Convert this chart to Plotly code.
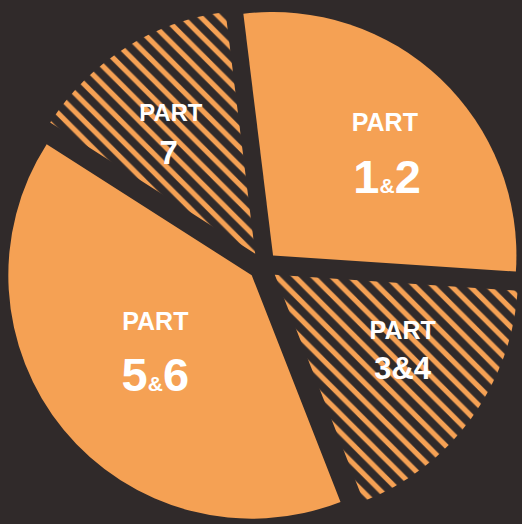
import plotly.graph_objects as go

# Data
part_labels = ["1&2", "3&4", "5&6", "7"]
shares = [28, 18, 40, 14]
hatched = [False, True, False, True]

ORANGE = "#f5a154"
DARK = "#302a2a"

NB = "&nbsp;"


def label_html(lbl):
    # "PART" small on top, numbers large with a small ampersand
    lead_head, lead_body, top, tail = "", "", "", ""
    if lbl == "1&2":
        lead_head, lead_body = NB * 5, NB * 3
    elif lbl == "7":
        lead_head, lead_body, top = NB * 2, NB, NB + "<br>"
    elif lbl == "3&4":
        tail = '<br><span style="font-size:4px">' + NB + "</span>"
    head = '<span style="font-size:25px">' + lead_head + "PART</span>"
    if lbl in ("1&2", "5&6"):
        a, b = lbl.split("&")
        body = a + '<span style="font-size:21px">&amp;</span>' + b
    else:
        body = lbl.replace("&", "&amp;")
    return top + head + "<br>" + lead_body + body + tail


texts = [label_html(l) for l in part_labels]
font_sizes = [47 if l in ("1&2", "5&6") else (31 if l == "3&4" else 35) for l in part_labels]

fig = go.Figure(
    go.Pie(
        labels=["PART " + l for l in part_labels],
        values=shares,
        text=texts,
        textinfo="text",
        texttemplate="%{text}",
        textposition="inside",
        insidetextorientation="horizontal",
        sort=False,
        direction="clockwise",
        rotation=-7,
        pull=[0.06] * len(shares),
        marker=dict(
            colors=[ORANGE] * len(shares),
            line=dict(width=0),
            pattern=dict(
                shape=["\\" if h else "" for h in hatched],
                fgcolor=ORANGE,
                bgcolor=[DARK if h else ORANGE for h in hatched],
                size=13,
                solidity=0.4,
                fillmode="replace",
            ),
        ),
        textfont=dict(family="Liberation Sans", color="white", size=font_sizes, weight="bold"),
        hoverinfo="label+percent",
        showlegend=False,
    )
)

fig.update_layout(
    width=522,
    height=524,
    margin=dict(l=4, r=0, t=8, b=0),
    paper_bgcolor=DARK,
    plot_bgcolor=DARK,
    showlegend=False,
)

fig.write_html(
    "out.html",
    config={"displayModeBar": False},
    post_script="document.body.style.margin='0';document.body.style.background='%s';" % DARK,
)
